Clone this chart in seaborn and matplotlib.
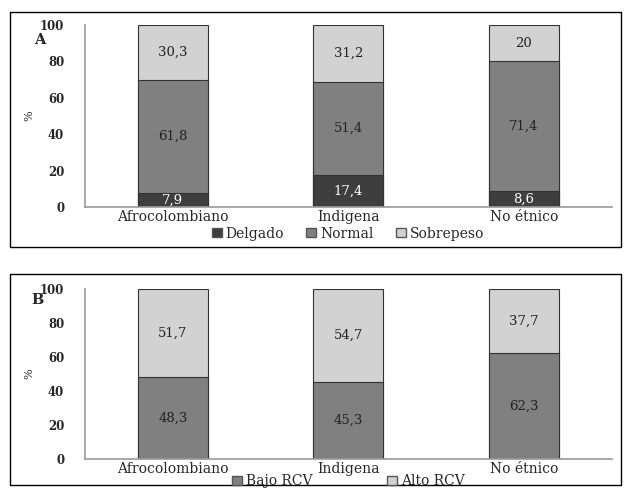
import numpy as np
import matplotlib
matplotlib.use("Agg")
import matplotlib.pyplot as plt
import seaborn as sns
from matplotlib.patches import Rectangle, Patch

groups = ["Afrocolombiano", "Indigena", "No étnico"]

# panel A: estado nutricional
imc_labels = ["Delgado", "Normal", "Sobrepeso"]
delgado = [7.9, 17.4, 8.6]
normal = [61.8, 51.4, 71.4]
sobrepeso = [30.3, 31.2, 20]

# panel B: riesgo cardiovascular
rcv_labels = ["Bajo RCV", "Alto RCV"]
bajo_rcv = [48.3, 45.3, 62.3]
alto_rcv = [51.7, 54.7, 37.7]

yticks = [0, 20, 40, 60, 80, 100]

sns.set_theme(style="white")
plt.rcParams["font.family"] = ["DejaVu Serif", "Liberation Serif"]

c_dark = "#3e3e3e"
c_mid = "#808080"
c_light = "#d2d2d2"
edge = "#333333"


def fmt(v):
    return f"{v:g}".replace(".", ",")


def stacked(ax, layers, colors, txt_colors):
    cums = np.cumsum(np.array(layers), axis=0)
    # draw tallest first so lower segments overlay
    for k in range(len(layers) - 1, -1, -1):
        sns.barplot(x=groups, y=cums[k], color=colors[k], width=0.4,
                    edgecolor=edge, linewidth=0.8, saturation=1, ax=ax)
    for k, vals in enumerate(layers):
        bottoms = cums[k] - np.array(vals)
        for i, v in enumerate(vals):
            ax.text(i, bottoms[i] + v / 2, fmt(v), ha="center", va="center",
                    fontsize=9.5, color=txt_colors[k])
    ax.set_xlim(-0.5, 2.5)
    ax.set_ylim(0, 100)
    ax.set_yticks(yticks)
    ax.set_yticklabels([str(t) for t in yticks], fontsize=8.5, fontweight="bold")
    ax.tick_params(axis="y", length=0, pad=15)
    ax.tick_params(axis="x", length=0, pad=2, labelsize=10)
    ax.set_ylabel("%", fontsize=8, labelpad=4)
    for s in ["top", "right"]:
        ax.spines[s].set_visible(False)
    for s in ["left", "bottom"]:
        ax.spines[s].set_color("#9a9a9a")
        ax.spines[s].set_linewidth(1.2)


fig = plt.figure(figsize=(6.27, 4.98), dpi=100)

# panel frames
fig.add_artist(Rectangle((0.016, 0.504), 0.974, 0.472, transform=fig.transFigure,
                         fill=False, edgecolor="black", linewidth=1.0))
fig.add_artist(Rectangle((0.016, 0.026), 0.974, 0.424, transform=fig.transFigure,
                         fill=False, edgecolor="black", linewidth=1.0))

axA = fig.add_axes([0.1356, 0.5843, 0.840, 0.3655])
stacked(axA, [delgado, normal, sobrepeso], [c_dark, c_mid, c_light],
        ["white", "#222222", "#222222"])
axB = fig.add_axes([0.1356, 0.0783, 0.840, 0.3414])
stacked(axB, [bajo_rcv, alto_rcv], [c_mid, c_light], ["#222222", "#222222"])

fig.text(0.054, 0.912, "A", fontsize=10.5, fontweight="bold")
fig.text(0.050, 0.390, "B", fontsize=10.5, fontweight="bold")

hA = [Patch(facecolor=c, edgecolor="#555555") for c in [c_dark, c_mid, c_light]]
fig.legend(hA, imc_labels, loc="center", bbox_to_anchor=(0.555, 0.531), ncol=3,
           frameon=False, fontsize=10, handlelength=0.7, handleheight=0.6,
           handletextpad=0.3, columnspacing=1.6)
hB = [Patch(facecolor=c, edgecolor="#555555") for c in [c_mid, c_light]]
fig.legend(hB, rcv_labels, loc="center", bbox_to_anchor=(0.556, 0.034), ncol=2,
           frameon=False, fontsize=10, handlelength=0.7, handleheight=0.6,
           handletextpad=0.3, columnspacing=5.4)

fig.savefig("out.png", dpi=100)
